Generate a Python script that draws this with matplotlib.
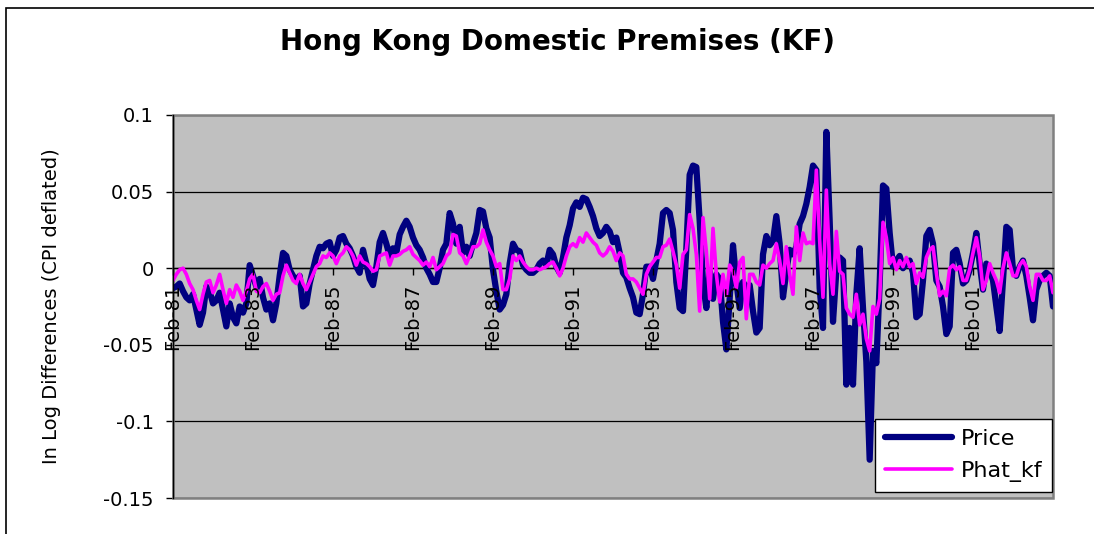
import numpy as np
import matplotlib
matplotlib.use("Agg")
import matplotlib.pyplot as plt
from matplotlib.patches import Rectangle

# Monthly log differences, Feb-81 onwards
price = [
    -0.013, -0.012, -0.010, -0.015, -0.019, -0.021, -0.017, -0.027, -0.037, -0.029,
    -0.012, -0.015, -0.023, -0.021, -0.016, -0.027, -0.038, -0.023, -0.032, -0.036,
    -0.025, -0.029, -0.023, 0.002, -0.005, -0.012, -0.007, -0.019, -0.027, -0.023,
    -0.034, -0.023, -0.005, 0.010, 0.008, -0.001, -0.005, -0.008, -0.005, -0.025,
    -0.023, -0.010, -0.001, 0.008, 0.014, 0.013, 0.016, 0.017, 0.008, 0.012,
    0.020, 0.021, 0.016, 0.013, 0.008, 0.001, -0.003, 0.012, 0.003, -0.007,
    -0.011, 0.001, 0.017, 0.023, 0.016, 0.008, 0.013, 0.010, 0.022, 0.027,
    0.031, 0.027, 0.020, 0.015, 0.012, 0.007, 0.000, -0.004, -0.009, -0.009,
    0.000, 0.012, 0.016, 0.036, 0.029, 0.016, 0.027, 0.010, 0.014, 0.008,
    0.016, 0.023, 0.038, 0.037, 0.026, 0.020, -0.001, -0.015, -0.027, -0.024,
    -0.017, 0.003, 0.016, 0.012, 0.011, 0.002, -0.001, -0.003, -0.003, -0.001,
    0.003, 0.005, 0.002, 0.012, 0.009, 0.001, -0.003, 0.007, 0.020, 0.028,
    0.039, 0.043, 0.040, 0.046, 0.045, 0.040, 0.034, 0.026, 0.021, 0.023,
    0.027, 0.024, 0.017, 0.020, 0.010, -0.003, -0.006, -0.013, -0.019, -0.029,
    -0.030, -0.017, 0.001, 0.001, -0.007, 0.005, 0.016, 0.036, 0.038, 0.036,
    0.025, -0.009, -0.026, -0.028, 0.013, 0.061, 0.067, 0.066, 0.031, -0.009,
    -0.026, -0.002, -0.020, -0.004, -0.007, -0.035, -0.053, -0.020, 0.015, -0.009,
    -0.026, -0.009, -0.013, -0.011, -0.028, -0.042, -0.039, 0.009, 0.021, 0.015,
    0.018, 0.034, 0.016, -0.019, -0.002, 0.012, 0.009, 0.014, 0.029, 0.034,
    0.042, 0.053, 0.067, 0.064, -0.013, -0.039, 0.089, 0.031, -0.035, -0.002,
    0.007, 0.005, -0.076, -0.039, -0.076, -0.017, 0.013, -0.026, -0.061, -0.125,
    -0.054, -0.062, -0.010, 0.054, 0.052, 0.023, 0.001, 0.005, 0.008, 0.000,
    0.003, 0.005, -0.003, -0.032, -0.030, -0.008, 0.021, 0.025, 0.016, -0.008,
    -0.012, -0.025, -0.043, -0.038, 0.010, 0.012, 0.003, -0.010, -0.008, -0.001,
    0.010, 0.023, 0.003, -0.014, 0.003, -0.001, -0.008, -0.025, -0.041, -0.008,
    0.027, 0.025, -0.001, -0.005, 0.001, 0.005, -0.005, -0.019, -0.034, -0.014,
    -0.008, -0.005, -0.003, -0.005, -0.025,
]

phat_kf = [
    -0.008, -0.004, -0.001, 0.000, -0.004, -0.010, -0.014, -0.021, -0.027, -0.017,
    -0.009, -0.008, -0.016, -0.011, -0.004, -0.014, -0.023, -0.014, -0.019, -0.011,
    -0.015, -0.021, -0.015, -0.007, -0.004, -0.015, -0.016, -0.012, -0.010, -0.015,
    -0.021, -0.017, -0.016, -0.005, 0.002, -0.003, -0.008, -0.010, -0.004, -0.010,
    -0.014, -0.009, -0.004, 0.001, 0.003, 0.008, 0.007, 0.010, 0.008, 0.003,
    0.008, 0.010, 0.014, 0.012, 0.008, 0.002, 0.008, 0.004, 0.003, 0.001,
    -0.002, -0.001, 0.008, 0.009, 0.010, 0.002, 0.008, 0.008, 0.009, 0.011,
    0.012, 0.014, 0.009, 0.007, 0.005, 0.002, 0.004, 0.001, 0.007, -0.001,
    0.001, 0.003, 0.008, 0.010, 0.022, 0.021, 0.010, 0.008, 0.003, 0.008,
    0.014, 0.014, 0.016, 0.025, 0.017, 0.012, 0.008, 0.001, 0.003, -0.014,
    -0.014, -0.007, 0.008, 0.005, 0.008, 0.004, 0.001, -0.001, -0.001, 0.000,
    -0.001, 0.000, 0.001, 0.003, 0.004, 0.000, -0.005, 0.000, 0.008, 0.014,
    0.016, 0.014, 0.020, 0.017, 0.023, 0.020, 0.017, 0.015, 0.010, 0.008,
    0.010, 0.014, 0.011, 0.005, 0.010, 0.008, -0.004, -0.007, -0.007, -0.009,
    -0.013, -0.017, -0.004, 0.001, 0.004, 0.007, 0.007, 0.014, 0.015, 0.019,
    0.011, 0.002, -0.013, 0.009, 0.012, 0.035, 0.026, 0.009, -0.028, 0.033,
    0.011, -0.020, 0.026, -0.004, -0.022, -0.004, -0.018, 0.002, -0.002, -0.013,
    0.004, 0.007, -0.033, -0.004, -0.004, -0.009, -0.011, 0.002, 0.000, 0.003,
    0.005, 0.016, 0.005, -0.010, 0.014, -0.004, -0.017, 0.027, 0.005, 0.023,
    0.016, 0.017, 0.016, 0.064, 0.018, -0.019, 0.051, 0.003, -0.017, 0.024,
    -0.002, -0.004, -0.026, -0.030, -0.032, -0.017, -0.037, -0.030, -0.046, -0.054,
    -0.025, -0.030, -0.020, 0.030, 0.020, 0.003, 0.007, -0.001, 0.005, 0.001,
    0.007, 0.001, 0.003, -0.010, -0.003, -0.006, 0.007, 0.012, 0.014, -0.003,
    -0.018, -0.015, -0.018, 0.000, 0.002, -0.001, 0.001, -0.008, -0.008, -0.001,
    0.010, 0.020, 0.008, -0.014, -0.008, 0.003, -0.003, -0.008, -0.016, 0.000,
    0.010, 0.003, -0.005, -0.005, 0.002, 0.005, 0.001, -0.012, -0.021, -0.004,
    -0.004, -0.008, -0.008, -0.005, -0.016,
]

tick_labels = ["Feb-81", "Feb-83", "Feb-85", "Feb-87", "Feb-89", "Feb-91",
               "Feb-93", "Feb-95", "Feb-97", "Feb-99", "Feb-01"]
y_ticks = [-0.15, -0.1, -0.05, 0.0, 0.05, 0.1]
y_tick_labels = ["-0.15", "-0.1", "-0.05", "0", "0.05", "0.1"]

title = "Hong Kong Domestic Premises (KF)"
y_title = "In Log Differences (CPI deflated)"

W, H = 1094, 534
fig = plt.figure(figsize=(W / 100, H / 100), dpi=100)
fig.patch.set_facecolor("white")

ax = fig.add_axes([173 / W, 1 - 498 / H, 880 / W, 383 / H])
ax.set_facecolor("#C0C0C0")

x = np.arange(len(price))
ax.plot(x, price, color="#000080", lw=4.5, label="Price",
        solid_joinstyle="round", solid_capstyle="round", zorder=2)
ax.plot(x, phat_kf, color="#FF00FF", lw=2.6, label="Phat_kf",
        solid_joinstyle="round", solid_capstyle="round", zorder=2.1)

ax.set_xlim(0, len(price) - 1)
ax.set_ylim(-0.15, 0.1)

ax.set_yticks(y_ticks)
ax.set_yticklabels(y_tick_labels)
ax.yaxis.grid(True, color="black", lw=0.9)
ax.set_xticks(np.arange(len(tick_labels)) * 24)
ax.set_xticklabels(tick_labels)

ax.tick_params(axis="x", direction="out", length=5, width=1, pad=6,
               labelrotation=90, labelsize=14, colors="black")
ax.tick_params(axis="y", direction="out", length=5, width=1, pad=9,
               labelsize=14, colors="black")

for side in ("top", "right"):
    ax.spines[side].set_visible(False)
ax.spines["left"].set_color("black")
ax.spines["left"].set_linewidth(1.0)
ax.spines["bottom"].set_position(("data", 0))
ax.spines["bottom"].set_color("black")
ax.spines["bottom"].set_linewidth(1.0)
ax.spines["bottom"].set_zorder(1.2)

# category labels sit above the series, value grid below
ax.xaxis.set_zorder(3)
ax.yaxis.set_zorder(1)

# plot-area border
ax.add_patch(Rectangle((0, 0), 1, 1, transform=ax.transAxes, fill=False,
                       edgecolor="#808080", lw=1.8, zorder=1.1, clip_on=False))

leg = ax.legend(loc="lower right", bbox_to_anchor=(0.999, 0.016),
                frameon=True, fancybox=False, edgecolor="black",
                facecolor="white", framealpha=1, fontsize=16,
                handlelength=3.0, handletextpad=0.4, borderpad=0.45,
                labelspacing=0.55, borderaxespad=0)
leg.get_frame().set_linewidth(1.0)

fig.text(558 / W, 1 - 42 / H, title, fontsize=20, fontweight="bold",
         ha="center", va="center")
fig.text(52 / W, 1 - 306 / H, y_title, rotation=90, fontsize=14,
         ha="center", va="center")

# chart frame (right and bottom edges fall outside the canvas)
fig.add_artist(Rectangle((6 / W, -0.1), 1.2, 1.1 - 8 / H,
                         transform=fig.transFigure, fill=False,
                         edgecolor="black", lw=1.2))

fig.savefig("out.png", dpi=100)
